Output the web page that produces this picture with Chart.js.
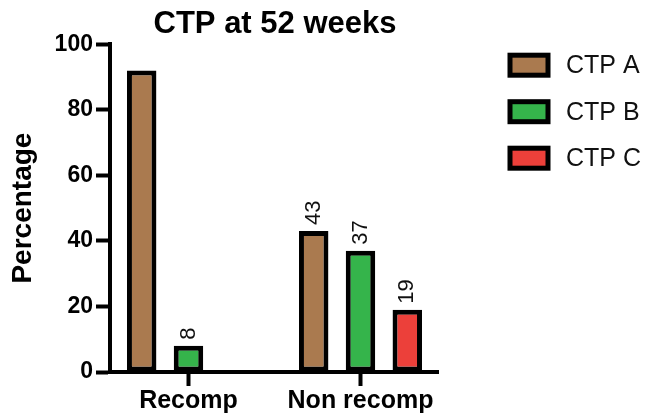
<!DOCTYPE html>
<html>
<head>
<meta charset="utf-8">
<script src="https://cdn.jsdelivr.net/npm/chart.js@4.4.1/dist/chart.umd.min.js"></script>
<style>
  html, body { margin: 0; padding: 0; background: #fff; }
  #wrap { position: relative; width: 646px; height: 414px; }
</style>
</head>
<body>
<div id="wrap"><canvas id="chart"></canvas></div>
<script>
const categories = ["Recomp", "Non recomp"];
const seriesNames = ["CTP A", "CTP B", "CTP C"];
const ctpA = [92, 43];
const ctpB = [8, 37];
const ctpC = [0, 19];
// numbers printed above the bars (the figure leaves some of them out)
const labelsA = ["", "43"];
const labelsB = ["8", "37"];
const labelsC = ["", "19"];
const yTicks = [0, 20, 40, 60, 80, 100];
const colors = ["#aa7a4f", "#35b44b", "#ec403a"];

const FONT = "'Liberation Sans', Arial, sans-serif";

const seriesValues = [ctpA, ctpB, ctpC];
const seriesLabels = [labelsA, labelsB, labelsC];

function toPoints(values) {
  return values.map((v, i) => ({ x: i, y: v }));
}

const datasets = seriesNames.map((name, i) => ({
  label: name,
  data: toPoints(seriesValues[i]),
  backgroundColor: colors[i],
  borderColor: "#000",
  borderWidth: 5,
  borderSkipped: false,
  categoryPercentage: 0.816,
  barPercentage: 0.63,
}));

const valueLabels = {
  id: "valueLabels",
  afterDatasetsDraw(chart) {
    const ctx = chart.ctx;
    ctx.save();
    ctx.font = "22px " + FONT;
    ctx.fillStyle = "#111";
    ctx.textAlign = "left";
    ctx.textBaseline = "middle";
    chart.data.datasets.forEach((ds, i) => {
      chart.getDatasetMeta(i).data.forEach((bar, j) => {
        const text = seriesLabels[i][j];
        if (!text) return;
        ctx.save();
        ctx.translate(bar.x, bar.y - 6);
        ctx.rotate(-Math.PI / 2);
        ctx.fillText(text, 0, 0);
        ctx.restore();
      });
    });
    ctx.restore();
  }
};

// legend on the right, drawn by hand so it can sit away from the axis
const sideLegend = {
  id: "sideLegend",
  afterDraw(chart) {
    const ctx = chart.ctx;
    const area = chart.chartArea;
    const boxX = area.right + 72;
    ctx.save();
    ctx.font = "25px " + FONT;
    ctx.textBaseline = "middle";
    ctx.textAlign = "left";
    chart.data.datasets.forEach((ds, i) => {
      const cy = area.top + 21 + i * 46.5;
      ctx.fillStyle = ds.backgroundColor;
      ctx.strokeStyle = "#000";
      ctx.lineWidth = 5;
      ctx.fillRect(boxX, cy - 10, 38, 20);
      ctx.strokeRect(boxX, cy - 10, 38, 20);
      ctx.fillStyle = "#111";
      ctx.fillText(ds.label, boxX + 56, cy + 1);
    });
    ctx.restore();
  }
};

const axisGrid = {
  display: true,
  drawOnChartArea: false,
  drawTicks: true,
  tickLength: 14,
  tickWidth: 4,
  tickColor: "#000",
  offset: false,
};
const axisBorder = { display: true, color: "#000", width: 4 };

new Chart(document.getElementById("chart"), {
  type: "bar",
  data: { datasets },
  options: {
    responsive: true,
    maintainAspectRatio: false,
    animation: false,
    layout: { padding: { left: 6, right: 102, top: 0, bottom: -3 } },
    plugins: {
      legend: { display: false },
      tooltip: { enabled: false },
      title: {
        display: true,
        text: "CTP at 52 weeks",
        color: "#000",
        font: { family: FONT, size: 31, weight: "bold", lineHeight: 1.2 },
        padding: { top: 6, bottom: 1 },
      },
    },
    scales: {
      x: {
        type: "linear",
        min: -0.4564,
        max: 1.4506,
        offset: false,
        afterBuildTicks: (scale) => {
          scale.ticks = categories.map((c, i) => ({ value: i }));
        },
        ticks: {
          callback: (v) => categories[v],
          color: "#000",
          font: { family: FONT, size: 25, weight: "bold", lineHeight: 1 },
          padding: 3,
          maxRotation: 0,
          autoSkip: false,
        },
        grid: axisGrid,
        border: axisBorder,
      },
      y: {
        min: 0,
        max: 100,
        afterBuildTicks: (scale) => {
          scale.ticks = yTicks.map((v) => ({ value: v }));
        },
        ticks: {
          color: "#000",
          font: { family: FONT, size: 23, weight: "bold" },
          padding: 3,
        },
        grid: axisGrid,
        border: axisBorder,
        title: {
          display: true,
          text: "Percentage",
          color: "#000",
          font: { family: FONT, size: 28, weight: "bold" },
          padding: { top: 0, bottom: 12 },
        },
      },
      // empty box on the right that keeps room for the legend
      side: {
        type: "linear",
        position: "right",
        display: true,
        ticks: { display: false },
        grid: { display: false },
        border: { display: false },
        afterFit: (scale) => {
          scale.width = 106;
        },
      },
    },
  },
  plugins: [valueLabels, sideLegend],
});
</script>
</body>
</html>
